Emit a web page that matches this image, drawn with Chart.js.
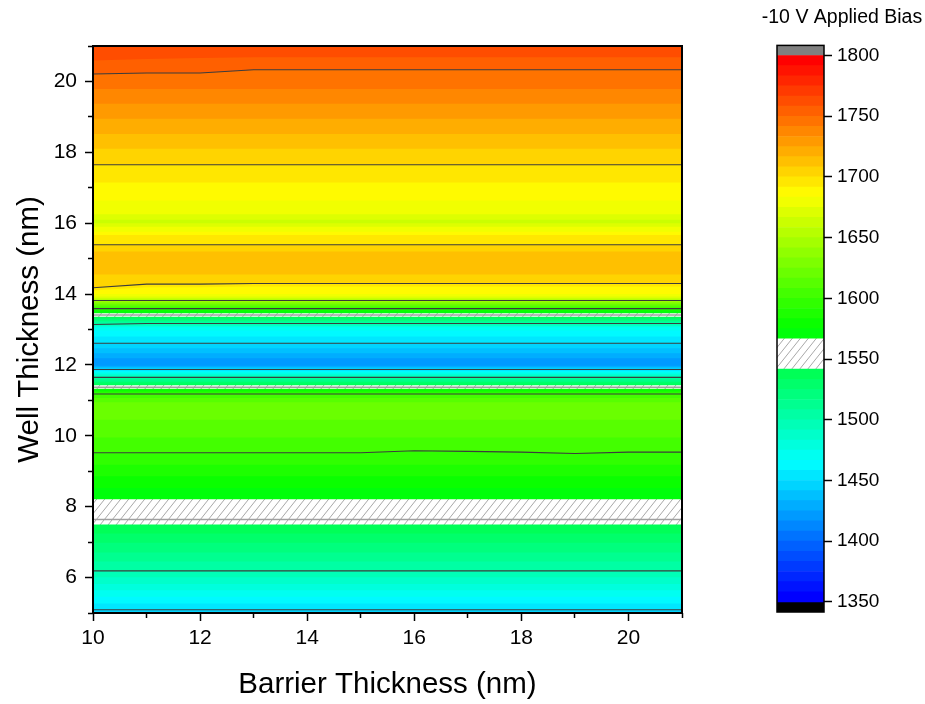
<!DOCTYPE html>
<html>
<head>
<meta charset="utf-8">
<title>-10 V Applied Bias</title>
<script src="https://cdn.jsdelivr.net/npm/chart.js@4.4.1/dist/chart.umd.min.js"></script>
<style>
  html, body { margin: 0; padding: 0; background: #fff; }
  #map { position: absolute; left: 0; top: 0; }
  #scale { position: absolute; left: 759px; top: 0; }
</style>
</head>
<body>
<canvas id="map" width="740" height="704"></canvas>
<canvas id="scale" width="166" height="704"></canvas>
<script>
const FONT = "'Liberation Sans', Arial, Helvetica, sans-serif";
Chart.defaults.font.family = FONT;
Chart.defaults.color = '#000';

// ---- axes ----
const barrierThickness = [10, 11, 12, 13, 14, 15, 16, 17, 18, 19, 20, 21];
const xMajorTicks = [10, 12, 14, 16, 18, 20];
const xMinorTicks = [11, 13, 15, 17, 19, 21];
const yMajorTicks = [6, 8, 10, 12, 14, 16, 18, 20];
const yMinorTicks = [5, 7, 9, 11, 13, 15, 17, 19, 21];
const colorbarTicks = [1350, 1400, 1450, 1500, 1550, 1600, 1650, 1700, 1750, 1800];

// ---- contour levels (wavelength, nm) ----
const levelMin = 1350, levelMax = 1800, levelCount = 54;
const hatchedLevels = [23, 24, 25];

// Band edges in well thickness (nm), bottom to top.
// A plain number is a flat edge; an array gives the edge at each barrier thickness.
const bandEdges = [
  // cyan / green, thin wells
  5.00, 5.09, 5.27, 5.46, 5.64, 5.82, 6.01, 6.19, 6.45, 6.71, 6.98, 7.24, 7.50, 7.64,
  // green plateau
  8.21, 8.53, 8.86, 9.18,
  [9.52, 9.52, 9.52, 9.52, 9.52, 9.52, 9.58, 9.56, 9.54, 9.50, 9.54, 9.54],
  9.95, 10.45, 10.95, 11.07, 11.18, 11.22, 11.26, 11.30, 11.33, 11.37,
  // blue dip
  11.43, 11.47, 11.52, 11.56, 11.61, 11.65, 11.69, 11.72, 11.76, 11.80, 11.83, 11.87,
  11.91, 11.94, 11.98, 12.19, 12.33, 12.47, 12.61,
  12.80, 12.97, 13.06, 13.10, 13.12,
  [13.14, 13.17, 13.17, 13.17, 13.17, 13.17, 13.17, 13.17, 13.17, 13.17, 13.17, 13.17],
  13.20, 13.24, 13.28, 13.32, 13.36, 13.41, 13.46, 13.50, 13.54, 13.57, 13.59,
  // yellow region
  13.64, 13.68, 13.72, 13.76, 13.79, 13.82, 13.86, 13.89, 13.93, 14.00,
  [14.10, 14.19, 14.19, 14.21, 14.21, 14.21, 14.21, 14.21, 14.21, 14.21, 14.21, 14.21],
  [14.18, 14.28, 14.28, 14.30, 14.30, 14.30, 14.30, 14.30, 14.30, 14.30, 14.30, 14.30],
  14.55, 15.20, 15.39, 15.67, 15.76, 15.90, 16.00, 16.10, 16.25, 16.64, 17.15, 17.65,
  // orange region
  18.10, 18.52, 18.95, 19.37, 19.79,
  [20.21, 20.24, 20.24, 20.33, 20.33, 20.33, 20.33, 20.33, 20.33, 20.33, 20.33, 20.33],
  [20.59, 20.63, 20.66, 20.68, 20.68, 20.68, 20.68, 20.68, 20.68, 20.68, 20.68, 20.68],
  21.00
];

// Level index of the band lying above each edge ('H' = hatched 1541.7–1566.7 nm)
const bandLevels = [
  11, 12, 13, 14, 15, 16, 17, 18, 19, 20, 21, 22, 'H', 'H',
  26, 27, 28, 29, 30, 31, 32, 31, 30, 29, 28, 27, 26, 'H', 'H',
  22, 21, 20, 19, 18, 17, 16, 15, 14, 13, 12, 11, 10, 9, 8, 9, 10, 11, 12,
  13, 14, 15, 16, 17, 18, 19, 20, 21, 22, 'H', 'H', 26, 27, 28, 29, 30,
  31, 32, 33, 34, 35, 36, 37, 38, 39, 40, 41, 42, 43, 42, 41, 40, 39, 38, 37, 38, 39, 40, 41, 42,
  43, 44, 45, 46, 47, 48, 49, null
];

// Contour line on each edge: k = dark line, g = grey line inside hatching
const edgeLines =
  '.k.....k.....g' +
  '....k....k....g' +
  '.....k.....k......k' +
  '.....k.....g....k' +
  '.....k.....k..k........k' +
  '.....k..';

// ---- colours ----
const rampStops = [[0, 0, 255], [0, 255, 255], [0, 255, 0], [255, 255, 0], [255, 0, 0]];
function levelColor(i) {
  const t = i / (levelCount - 1) * 4;
  const s = Math.min(3, Math.floor(t));
  const f = t - s;
  const a = rampStops[s], b = rampStops[s + 1];
  const c = a.map((v, k) => Math.round(v + (b[k] - v) * f));
  return `rgb(${c[0]},${c[1]},${c[2]})`;
}

function hatchPattern(ctx) {
  const w = 8, h = 10;
  const tile = document.createElement('canvas');
  tile.width = w; tile.height = h;
  const g = tile.getContext('2d');
  g.fillStyle = '#fff';
  g.fillRect(0, 0, w, h);
  g.strokeStyle = '#a8a8a8';
  g.lineWidth = 1;
  for (const k of [-1, 0, 1]) {
    g.beginPath();
    g.moveTo(k * w - 1, h + h / w);
    g.lineTo(k * w + w + 1, -h / w);
    g.stroke();
  }
  return ctx.createPattern(tile, 'repeat');
}

const mapCanvas = document.getElementById('map');
const scaleCanvas = document.getElementById('scale');
const mapHatch = hatchPattern(mapCanvas.getContext('2d'));
const scaleHatch = hatchPattern(scaleCanvas.getContext('2d'));
const paint = (lv, hatch) => (lv === 'H' ? hatch : levelColor(lv));

// ---- plot frame ----
const framePlugin = {
  id: 'frame',
  afterDraw(chart, args, opts) {
    const { ctx, chartArea: a } = chart;
    ctx.save();
    ctx.strokeStyle = '#000';
    ctx.lineWidth = opts.width || 2;
    ctx.strokeRect(a.left, a.top, a.right - a.left, a.bottom - a.top);
    ctx.restore();
  }
};

// ---- contour map ----
const edgeY = (edge, j) => (Array.isArray(edge) ? edge[j] : edge);
const edgePoints = edge => barrierThickness.map((x, j) => ({ x, y: edgeY(edge, j) }));

const contourSets = [];
bandEdges.forEach((edge, k) => {
  const mark = edgeLines[k];
  if (mark === 'k' || mark === 'g') {
    contourSets.push({
      data: edgePoints(edge),
      borderColor: mark === 'k' ? '#3c3c3c' : '#a0a0a0',
      borderWidth: mark === 'k' ? 1.1 : 1.6,
      pointRadius: 0, fill: false, tension: 0
    });
  }
});

// each edge fills everything beneath it with the band just below it;
// higher edges are painted first, so lower ones overwrite them
const bandSets = bandEdges.map((edge, k) => ({
  data: edgePoints(edge),
  borderWidth: 0,
  borderColor: 'rgba(0,0,0,0)',
  pointRadius: 0,
  tension: 0,
  fill: k === 0 ? false : 'start',
  backgroundColor: k === 0 ? 'rgba(0,0,0,0)' : paint(bandLevels[k - 1], mapHatch)
}));

const tickFont = { size: 21 };
const titleFont = { size: 29.5 };

new Chart(mapCanvas, {
  type: 'line',
  data: { datasets: [...contourSets, ...bandSets] },
  options: {
    responsive: false,
    animation: false,
    devicePixelRatio: 1,
    layout: { padding: { top: 46, right: 58, bottom: 0, left: 0 } },
    plugins: {
      legend: { display: false },
      tooltip: { enabled: false },
      filler: { drawTime: 'beforeDatasetsDraw' },
      frame: { width: 2 }
    },
    scales: {
      x: {
        type: 'linear', position: 'bottom', min: 10, max: 21, weight: 1,
        afterBuildTicks: s => { s.ticks = xMajorTicks.map(v => ({ value: v })); },
        ticks: { font: tickFont, color: '#000', padding: 5, maxRotation: 0, autoSkip: false },
        grid: { drawOnChartArea: false, tickLength: 8, tickWidth: 1.5, tickColor: '#000' },
        border: { display: true, color: '#000', width: 2 },
        title: { display: true, text: 'Barrier Thickness (nm)', font: titleFont, color: '#000', padding: { top: 0, bottom: 1 } },
        afterFit: s => { s.height = 91; }
      },
      xMinor: {
        type: 'linear', position: 'bottom', min: 10, max: 21, weight: 0,
        afterBuildTicks: s => { s.ticks = xMinorTicks.map(v => ({ value: v })); },
        ticks: { display: false },
        grid: { drawOnChartArea: false, tickLength: 5, tickWidth: 1.5, tickColor: '#000' },
        border: { display: false },
        afterFit: s => { s.height = 0; }
      },
      y: {
        type: 'linear', position: 'left', min: 5, max: 21, weight: 1,
        afterBuildTicks: s => { s.ticks = yMajorTicks.map(v => ({ value: v })); },
        ticks: { font: tickFont, color: '#000', padding: 8, autoSkip: false },
        grid: { drawOnChartArea: false, tickLength: 8, tickWidth: 1.5, tickColor: '#000' },
        border: { display: true, color: '#000', width: 2 },
        title: { display: true, text: 'Well Thickness (nm)', font: titleFont, color: '#000', padding: { top: 12, bottom: 0 } },
        afterFit: s => { s.width = 93; }
      },
      yMinor: {
        type: 'linear', position: 'left', min: 5, max: 21, weight: 0,
        afterBuildTicks: s => { s.ticks = yMinorTicks.map(v => ({ value: v })); },
        ticks: { display: false },
        grid: { drawOnChartArea: false, tickLength: 5, tickWidth: 1.5, tickColor: '#000' },
        border: { display: false },
        afterFit: s => { s.width = 0; }
      }
    }
  },
  plugins: [framePlugin]
});

// ---- colour scale ----
const step = (levelMax - levelMin) / levelCount;
const scaleSets = [];
for (let i = 0; i < levelCount; i++) {
  scaleSets.push({
    data: [[levelMin + i * step, levelMin + (i + 1) * step]],
    backgroundColor: hatchedLevels.includes(i) ? scaleHatch : levelColor(i)
  });
}
scaleSets.push({ data: [[levelMax, levelMax + step]], backgroundColor: '#808080' });
scaleSets.push({ data: [[levelMin - step, levelMin]], backgroundColor: '#000000' });
scaleSets.forEach(d => Object.assign(d, {
  xAxisID: 'x', yAxisID: 'y', grouped: false, barPercentage: 1, categoryPercentage: 1, borderWidth: 0
}));

new Chart(scaleCanvas, {
  type: 'bar',
  data: { labels: [''], datasets: scaleSets },
  options: {
    responsive: false,
    animation: false,
    devicePixelRatio: 1,
    layout: { padding: { top: 0, right: 0, bottom: 92, left: 0 } },
    plugins: {
      legend: { display: false },
      tooltip: { enabled: false },
      title: {
        display: true, text: '-10 V Applied Bias', color: '#000',
        font: { size: 19.5, weight: 'normal' }, padding: { top: 6, bottom: 16 }
      },
      frame: { width: 1.5 }
    },
    scales: {
      x: { type: 'category', display: false },
      pad: {
        type: 'linear', position: 'left', display: true,
        ticks: { display: false }, grid: { display: false }, border: { display: false },
        afterFit: s => { s.width = 18; }
      },
      y: {
        type: 'linear', position: 'right', min: levelMin - step, max: levelMax + step,
        afterBuildTicks: s => { s.ticks = colorbarTicks.map(v => ({ value: v })); },
        ticks: { font: { size: 19 }, color: '#000', padding: 5, autoSkip: false, callback: v => String(v) },
        grid: { drawOnChartArea: false, tickLength: 8, tickWidth: 1.5, tickColor: '#000' },
        border: { display: false },
        afterFit: s => { s.width = 101; }
      }
    }
  },
  plugins: [framePlugin]
});
</script>
</body>
</html>
